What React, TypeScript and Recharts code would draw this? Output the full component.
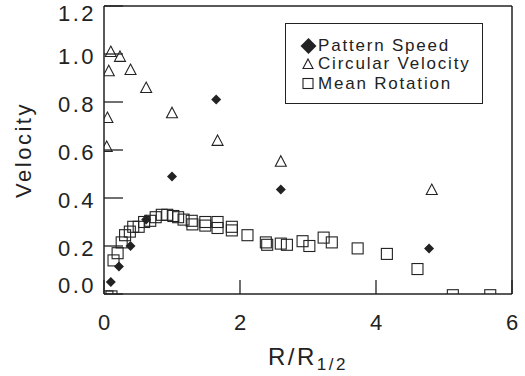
import { Label, Legend, Scatter, ScatterChart, XAxis, YAxis } from 'recharts'

// R / R_1/2 and velocity
const PATTERN_R = [0.1, 0.22, 0.39, 0.62, 1.0, 1.65, 2.6, 4.78]
const PATTERN_V = [0.05, 0.115, 0.2, 0.31, 0.49, 0.81, 0.435, 0.19]

const CIRC_R = [0.04, 0.05, 0.07, 0.1, 0.235, 0.39, 0.62, 1.0, 1.67, 2.6, 4.82]
const CIRC_V = [0.615, 0.735, 0.93, 1.01, 0.99, 0.935, 0.86, 0.755, 0.64, 0.553, 0.435]

const MEAN_R = [
  0.05, 0.11, 0.14, 0.2, 0.26, 0.31, 0.38, 0.43, 0.51, 0.59, 0.68, 0.76, 0.85, 0.93, 1.02,
  1.09, 1.17, 1.29, 1.3, 1.49, 1.49, 1.67, 1.67, 1.88, 1.88, 2.11, 2.38, 2.4, 2.6, 2.69,
  2.92, 3.02, 3.23, 3.35, 3.73, 4.16, 4.61, 5.13, 5.68,
]
const MEAN_V = [
  -0.01, -0.01, 0.14, 0.17, 0.215, 0.245, 0.26, 0.28, 0.28, 0.3, 0.305, 0.32, 0.33, 0.33, 0.325,
  0.32, 0.31, 0.305, 0.29, 0.3, 0.285, 0.3, 0.275, 0.28, 0.265, 0.245, 0.215, 0.205, 0.21, 0.205,
  0.22, 0.2, 0.235, 0.215, 0.19, 0.167, 0.104, -0.005, -0.005,
]

const X_TICKS = [0, 0.5, 1, 1.5, 2, 2.5, 3, 3.5, 4, 4.5, 5, 5.5, 6]
const X_LABELS = [0, 2, 4, 6]
const Y_TICKS = [
  0, 0.05, 0.1, 0.15, 0.2, 0.25, 0.3, 0.35, 0.4, 0.45, 0.5, 0.55, 0.6, 0.65, 0.7, 0.75, 0.8,
  0.85, 0.9, 0.95, 1, 1.05, 1.1, 1.15, 1.2,
]
const Y_LABELS = [0, 0.2, 0.4, 0.6, 0.8, 1.0, 1.2]

const pattern = PATTERN_R.map((r, i) => ({ r, v: PATTERN_V[i] }))
const circular = CIRC_R.map((r, i) => ({ r, v: CIRC_V[i] }))
const mean = MEAN_R.map((r, i) => ({ r, v: MEAN_V[i] }))

const INK = '#222'
const FONT = '"Liberation Sans", Arial, sans-serif'
const TICK_LINE = { stroke: INK, strokeWidth: 1.3 }

const Diamond = ({ cx, cy, s = 5 }: { cx: number; cy: number; s?: number }) => (
  <polygon points={`${cx},${cy - s} ${cx + s},${cy} ${cx},${cy + s} ${cx - s},${cy}`} fill={INK} />
)
const Triangle = ({ cx, cy, s = 5.5 }: { cx: number; cy: number; s?: number }) => (
  <polygon
    points={`${cx},${cy - s} ${cx + s},${cy + s * 0.9} ${cx - s},${cy + s * 0.9}`}
    fill="none"
    stroke={INK}
    strokeWidth={1.1}
  />
)
const Square = ({ cx, cy, s = 5.5 }: { cx: number; cy: number; s?: number }) => (
  <rect x={cx - s} y={cy - s} width={2 * s} height={2 * s} fill="none" stroke={INK} strokeWidth={1.1} />
)

// labels only; tick marks come from the axes' own tickLine (negative tickSize = inward)
const BottomLabel = (p: any) => (
  <text x={p.x + 1} y={p.y + 36} textAnchor="middle" fontSize={22} letterSpacing={2} fill={INK} fontFamily={FONT}>
    {p.payload.value}
  </text>
)
const LeftLabel = (p: any) => {
  const v = p.payload.value
  const dy = v === 0 ? -9 : v > 1.1 ? 7 : 2
  return (
    <text x={p.x - 8} y={p.y + 8 + dy} textAnchor="end" fontSize={22} letterSpacing={2.5} fill={INK} fontFamily={FONT}>
      {v.toFixed(1)}
    </text>
  )
}

const LegendBox = () => (
  <svg width={198} height={81}>
    <rect x={0.5} y={0.5} width={197} height={80} fill="white" stroke={INK} />
    <g fontFamily={FONT} fontSize={17} letterSpacing={1.8} fill={INK}>
      <Diamond cx={23.5} cy={23} s={8} />
      <text x={33} y={28}>Pattern Speed</text>
      <Triangle cx={23} cy={41} s={5} />
      <text x={33} y={46}>Circular Velocity</text>
      <Square cx={23} cy={60.5} s={5} />
      <text x={33} y={66}>Mean Rotation</text>
    </g>
  </svg>
)

export default function App() {
  return (
    <div style={{ position: 'absolute', left: 0, top: 0, background: 'white' }}>
      <ScatterChart width={525} height={376} margin={{ top: 0, right: 0, bottom: 0, left: 0 }}>
        {/* zero-size minor-tick axes first, so they sit on the plot frame */}
        <XAxis xAxisId="bottomMinor" type="number" domain={[0, 6]} ticks={X_TICKS} interval={0} height={0}
          tickSize={-7} tick={false} axisLine={false} stroke={INK} tickLine={TICK_LINE} />
        <XAxis xAxisId="topMinor" orientation="top" type="number" domain={[0, 6]} ticks={X_TICKS} interval={0}
          height={0} tickSize={-7} tick={false} axisLine={false} stroke={INK} tickLine={TICK_LINE} />
        <YAxis yAxisId="leftMinor" type="number" domain={[0, 1.2]} ticks={Y_TICKS} interval={0} width={0}
          tickSize={-9} tick={false} axisLine={false} stroke={INK} tickLine={TICK_LINE} />
        <YAxis yAxisId="rightMinor" orientation="right" type="number" domain={[0, 1.2]} ticks={Y_TICKS}
          interval={0} width={0} tickSize={-9} tick={false} axisLine={false} stroke={INK} tickLine={TICK_LINE} />

        <XAxis
          xAxisId="bottom"
          type="number"
          dataKey="r"
          domain={[0, 6]}
          ticks={X_LABELS}
          interval={0}
          allowDataOverflow
          height={82}
          tickSize={-14}
          tickMargin={14}
          tick={BottomLabel}
          stroke={INK}
          tickLine={TICK_LINE}
          axisLine={{ stroke: INK, strokeWidth: 1.5 }}
        >
          <Label
            content={(props: any) => {
              const vb = props.viewBox
              return (
                <text x={vb.x + vb.width / 2} y={vb.y + 71} textAnchor="middle" fill={INK} fontFamily={FONT} letterSpacing={2.5}>
                  <tspan fontSize={24}>R/R</tspan>
                  <tspan fontSize={17} dy={5}>1/2</tspan>
                </text>
              )
            }}
          />
        </XAxis>
        <XAxis
          xAxisId="top"
          orientation="top"
          type="number"
          domain={[0, 6]}
          ticks={X_LABELS}
          interval={0}
          height={6}
          tickSize={-14}
          tick={false}
          stroke={INK}
          tickLine={TICK_LINE}
          axisLine={{ stroke: INK, strokeWidth: 1.5 }}
        />
        <YAxis
          yAxisId="left"
          type="number"
          dataKey="v"
          domain={[0, 1.2]}
          ticks={Y_LABELS}
          interval={0}
          allowDataOverflow
          width={104}
          tickSize={-19}
          tickMargin={19}
          tick={LeftLabel}
          stroke={INK}
          tickLine={TICK_LINE}
          axisLine={{ stroke: INK, strokeWidth: 1.5 }}
        >
          <Label
            content={(props: any) => {
              const vb = props.viewBox
              const cx = 31
              const cy = vb.y + vb.height / 2
              return (
                <text
                  x={cx}
                  y={cy}
                  transform={`rotate(-90 ${cx} ${cy})`}
                  textAnchor="middle"
                  fontSize={22}
                  letterSpacing={2.5}
                  fill={INK}
                  fontFamily={FONT}
                >
                  Velocity
                </text>
              )
            }}
          />
        </YAxis>
        <YAxis
          yAxisId="right"
          orientation="right"
          type="number"
          domain={[0, 1.2]}
          ticks={Y_LABELS}
          interval={0}
          width={13}
          tickSize={-19}
          tick={false}
          stroke={INK}
          tickLine={TICK_LINE}
          axisLine={{ stroke: INK, strokeWidth: 1.5 }}
        />
        <Legend
          content={LegendBox}
          layout="horizontal"
          verticalAlign="middle"
          wrapperStyle={{ position: 'absolute', left: 285, top: 23, width: 198, height: 81 }}
        />
        <Scatter
          name="Mean Rotation"
          data={mean}
          xAxisId="bottom"
          yAxisId="left"
          isAnimationActive={false}
          shape={(p: any) => <Square cx={p.cx} cy={p.cy} />}
        />
        <Scatter
          name="Circular Velocity"
          data={circular}
          xAxisId="bottom"
          yAxisId="left"
          isAnimationActive={false}
          shape={(p: any) => <Triangle cx={p.cx} cy={p.cy} />}
        />
        <Scatter
          name="Pattern Speed"
          data={pattern}
          xAxisId="bottom"
          yAxisId="left"
          isAnimationActive={false}
          shape={(p: any) => <Diamond cx={p.cx} cy={p.cy} />}
        />
      </ScatterChart>
    </div>
  )
}
